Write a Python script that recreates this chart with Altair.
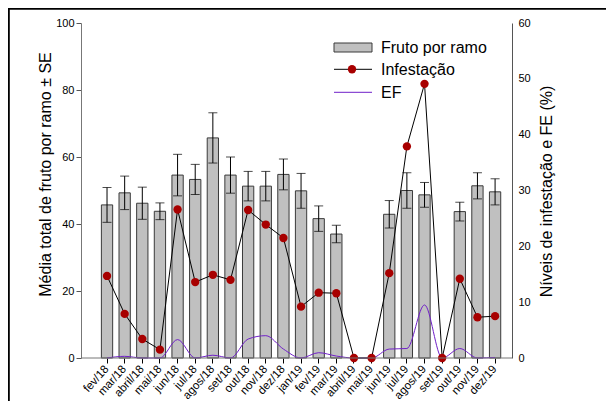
import altair as alt
import pandas as pd

months = ["fev/18", "mar/18", "abril/18", "mai/18", "jun/18", "jul/18", "agos/18",
          "set/18", "out/18", "nov/18", "dez/18", "jan/19", "fev/19", "mar/19",
          "abril/19", "mai/19", "jun/19", "jul/19", "agos/19", "set/19", "out/19",
          "nov/19", "dez/19"]
fruit = [45.7, 49.3, 46.2, 43.8, 54.6, 53.3, 65.7, 54.6, 51.3, 51.3, 54.8, 49.9,
         41.6, 37.0, None, None, 42.9, 50.0, 48.7, None, 43.7, 51.4, 49.6]
se = [5.2, 5.0, 4.8, 2.5, 6.2, 4.5, 7.5, 5.4, 4.4, 4.4, 4.6, 5.2,
      3.8, 2.6, None, None, 4.1, 5.3, 3.7, None, 2.8, 3.9, 3.9]
infest = [14.7, 7.9, 3.4, 1.5, 26.6, 13.6, 14.9, 14.0, 26.5, 23.9, 21.5, 9.2,
          11.7, 11.6, 0.0, 0.0, 15.2, 37.9, 49.1, 0.0, 14.2, 7.3, 7.5]
ef = [0.0, 0.3, 0.0, 0.0, 3.3, 0.0, 0.5, 0.0, 3.4, 4.0, 1.6, 0.0,
      0.95, 0.35, 0.0, 0.0, 1.6, 1.7, 9.5, 0.0, 1.7, 0.0, 0.1]

df = pd.DataFrame({"month": months, "fruit": fruit, "se": se, "infest": infest, "ef": ef})
df["lo"] = df["fruit"] - df["se"]
df["hi"] = df["fruit"] + df["se"]

W, H = 431, 335
PL, PT = 73, 15
TOTW, TOTH = 598, 393
FONT = "Liberation Sans"

xscale = alt.Scale(domain=months, range=[17.2, 422.9], paddingInner=0.36, paddingOuter=0.18)
xaxis = alt.Axis(title=None, domain=False, labelAngle=-48, labelAlign="right",
                 labelBaseline="middle", labelFontSize=11.5, labelFont=FONT,
                 labelColor="black", tickColor="black", tickSize=5, labelPadding=4,
                 labelOverlap=False, grid=False)
X = alt.X("month:N", sort=months, scale=xscale, axis=xaxis)

scaleL = alt.Scale(domain=[0, 100], nice=False, zero=True)
axisL = alt.Axis(title="Média total de fruto por ramo ± SE", values=[0, 20, 40, 60, 80, 100],
                 orient="left", grid=False, domainColor="#777", tickColor="#555",
                 tickSize=5, labelFontSize=11, labelFont=FONT, labelColor="black",
                 labelPadding=2, titleFont=FONT, titleFontSize=16, titleFontWeight="normal",
                 titleColor="black", titleAngle=270, titleBaseline="middle",
                 titleX=-36, titleY=151, titleAlign="center")

scaleR = alt.Scale(domain=[0, 60], nice=False, zero=True)
axisR = alt.Axis(title="Níveis de infestação e FE (%)", values=[0, 10, 20, 30, 40, 50, 60],
                 orient="right", grid=False, domainColor="#555", ticks=False,
                 labelFontSize=11, labelFont=FONT, labelColor="black", labelPadding=6,
                 titleFont=FONT, titleFontSize=16, titleFontWeight="normal",
                 titleColor="black", titleAngle=270, titleBaseline="middle",
                 titleX=34, titleY=168, titleAlign="center")

base = alt.Chart(df)

bars = base.mark_bar(fill="#c0c0c0", stroke="#3a3a3a", strokeWidth=1).encode(
    x=X, y=alt.Y("fruit:Q", scale=scaleL, axis=axisL))
err = base.mark_rule(color="black", strokeWidth=1).encode(
    x=X, y=alt.Y("lo:Q", scale=scaleL, axis=axisL), y2="hi:Q")
cap_hi = base.mark_tick(color="black", thickness=1, size=9, orient="horizontal").encode(
    x=X, y=alt.Y("hi:Q", scale=scaleL, axis=axisL))
cap_lo = base.mark_tick(color="black", thickness=1, size=9, orient="horizontal").encode(
    x=X, y=alt.Y("lo:Q", scale=scaleL, axis=axisL))

left = alt.layer(bars, err, cap_hi, cap_lo)

ef_line = base.mark_line(color="#7020c8", strokeWidth=1, interpolate="monotone").encode(
    x=X, y=alt.Y("ef:Q", scale=scaleR, axis=axisR))
inf_line = base.mark_line(color="black", strokeWidth=1).encode(
    x=X, y=alt.Y("infest:Q", scale=scaleR, axis=axisR))
inf_pts = base.mark_circle(color="#a80000", opacity=1, size=70).encode(
    x=X, y=alt.Y("infest:Q", scale=scaleR, axis=axisR))

right = alt.layer(ef_line, inf_line, inf_pts)

one = alt.Chart(pd.DataFrame({"k": [0]}))
xdomain = one.mark_rule(color="#777", strokeWidth=1).encode(
    x=alt.value(0), x2=alt.value(W), y=alt.value(H))
border_top = one.mark_rule(color="black", strokeWidth=2).encode(
    x=alt.value(-PL), x2=alt.value(TOTW - PL), y=alt.value(-PT + 0.8))
border_left = one.mark_rule(color="black", strokeWidth=2).encode(
    x=alt.value(-PL + 0.8), y=alt.value(-PT), y2=alt.value(TOTH - PT))

leg_rect = one.mark_rect(fill="#c0c0c0", stroke="#3a3a3a", strokeWidth=1).encode(
    x=alt.value(253), x2=alt.value(291), y=alt.value(20), y2=alt.value(29))
leg_line1 = one.mark_rule(color="black", strokeWidth=1).encode(
    x=alt.value(253), x2=alt.value(291), y=alt.value(46.3))
leg_pt = one.mark_circle(color="#a80000", opacity=1, size=70).encode(
    x=alt.value(271), y=alt.value(46.3))
leg_line2 = one.mark_rule(color="#7020c8", strokeWidth=1).encode(
    x=alt.value(253), x2=alt.value(291), y=alt.value(69.3))
leg_t1 = one.mark_text(align="left", baseline="middle", font=FONT, fontSize=16, color="black").encode(
    x=alt.value(300), y=alt.value(25), text=alt.value("Fruto por ramo"))
leg_t2 = one.mark_text(align="left", baseline="middle", font=FONT, fontSize=16, color="black").encode(
    x=alt.value(300), y=alt.value(47), text=alt.value("Infestação"))
leg_t3 = one.mark_text(align="left", baseline="middle", font=FONT, fontSize=16, color="black").encode(
    x=alt.value(300), y=alt.value(70), text=alt.value("EF"))

deco = alt.layer(xdomain, border_top, border_left, leg_rect, leg_line1, leg_pt,
                 leg_line2, leg_t1, leg_t2, leg_t3)

chart = alt.layer(left, right, deco).resolve_scale(y="independent").properties(
    width=W, height=H,
    autosize=alt.AutoSizeParams(type="none"),
    padding={"left": PL, "top": PT, "right": TOTW - PL - W, "bottom": TOTH - PT - H},
).configure_view(stroke=None)

chart.save("out.html", embed_options={"renderer": "svg", "actions": False})
